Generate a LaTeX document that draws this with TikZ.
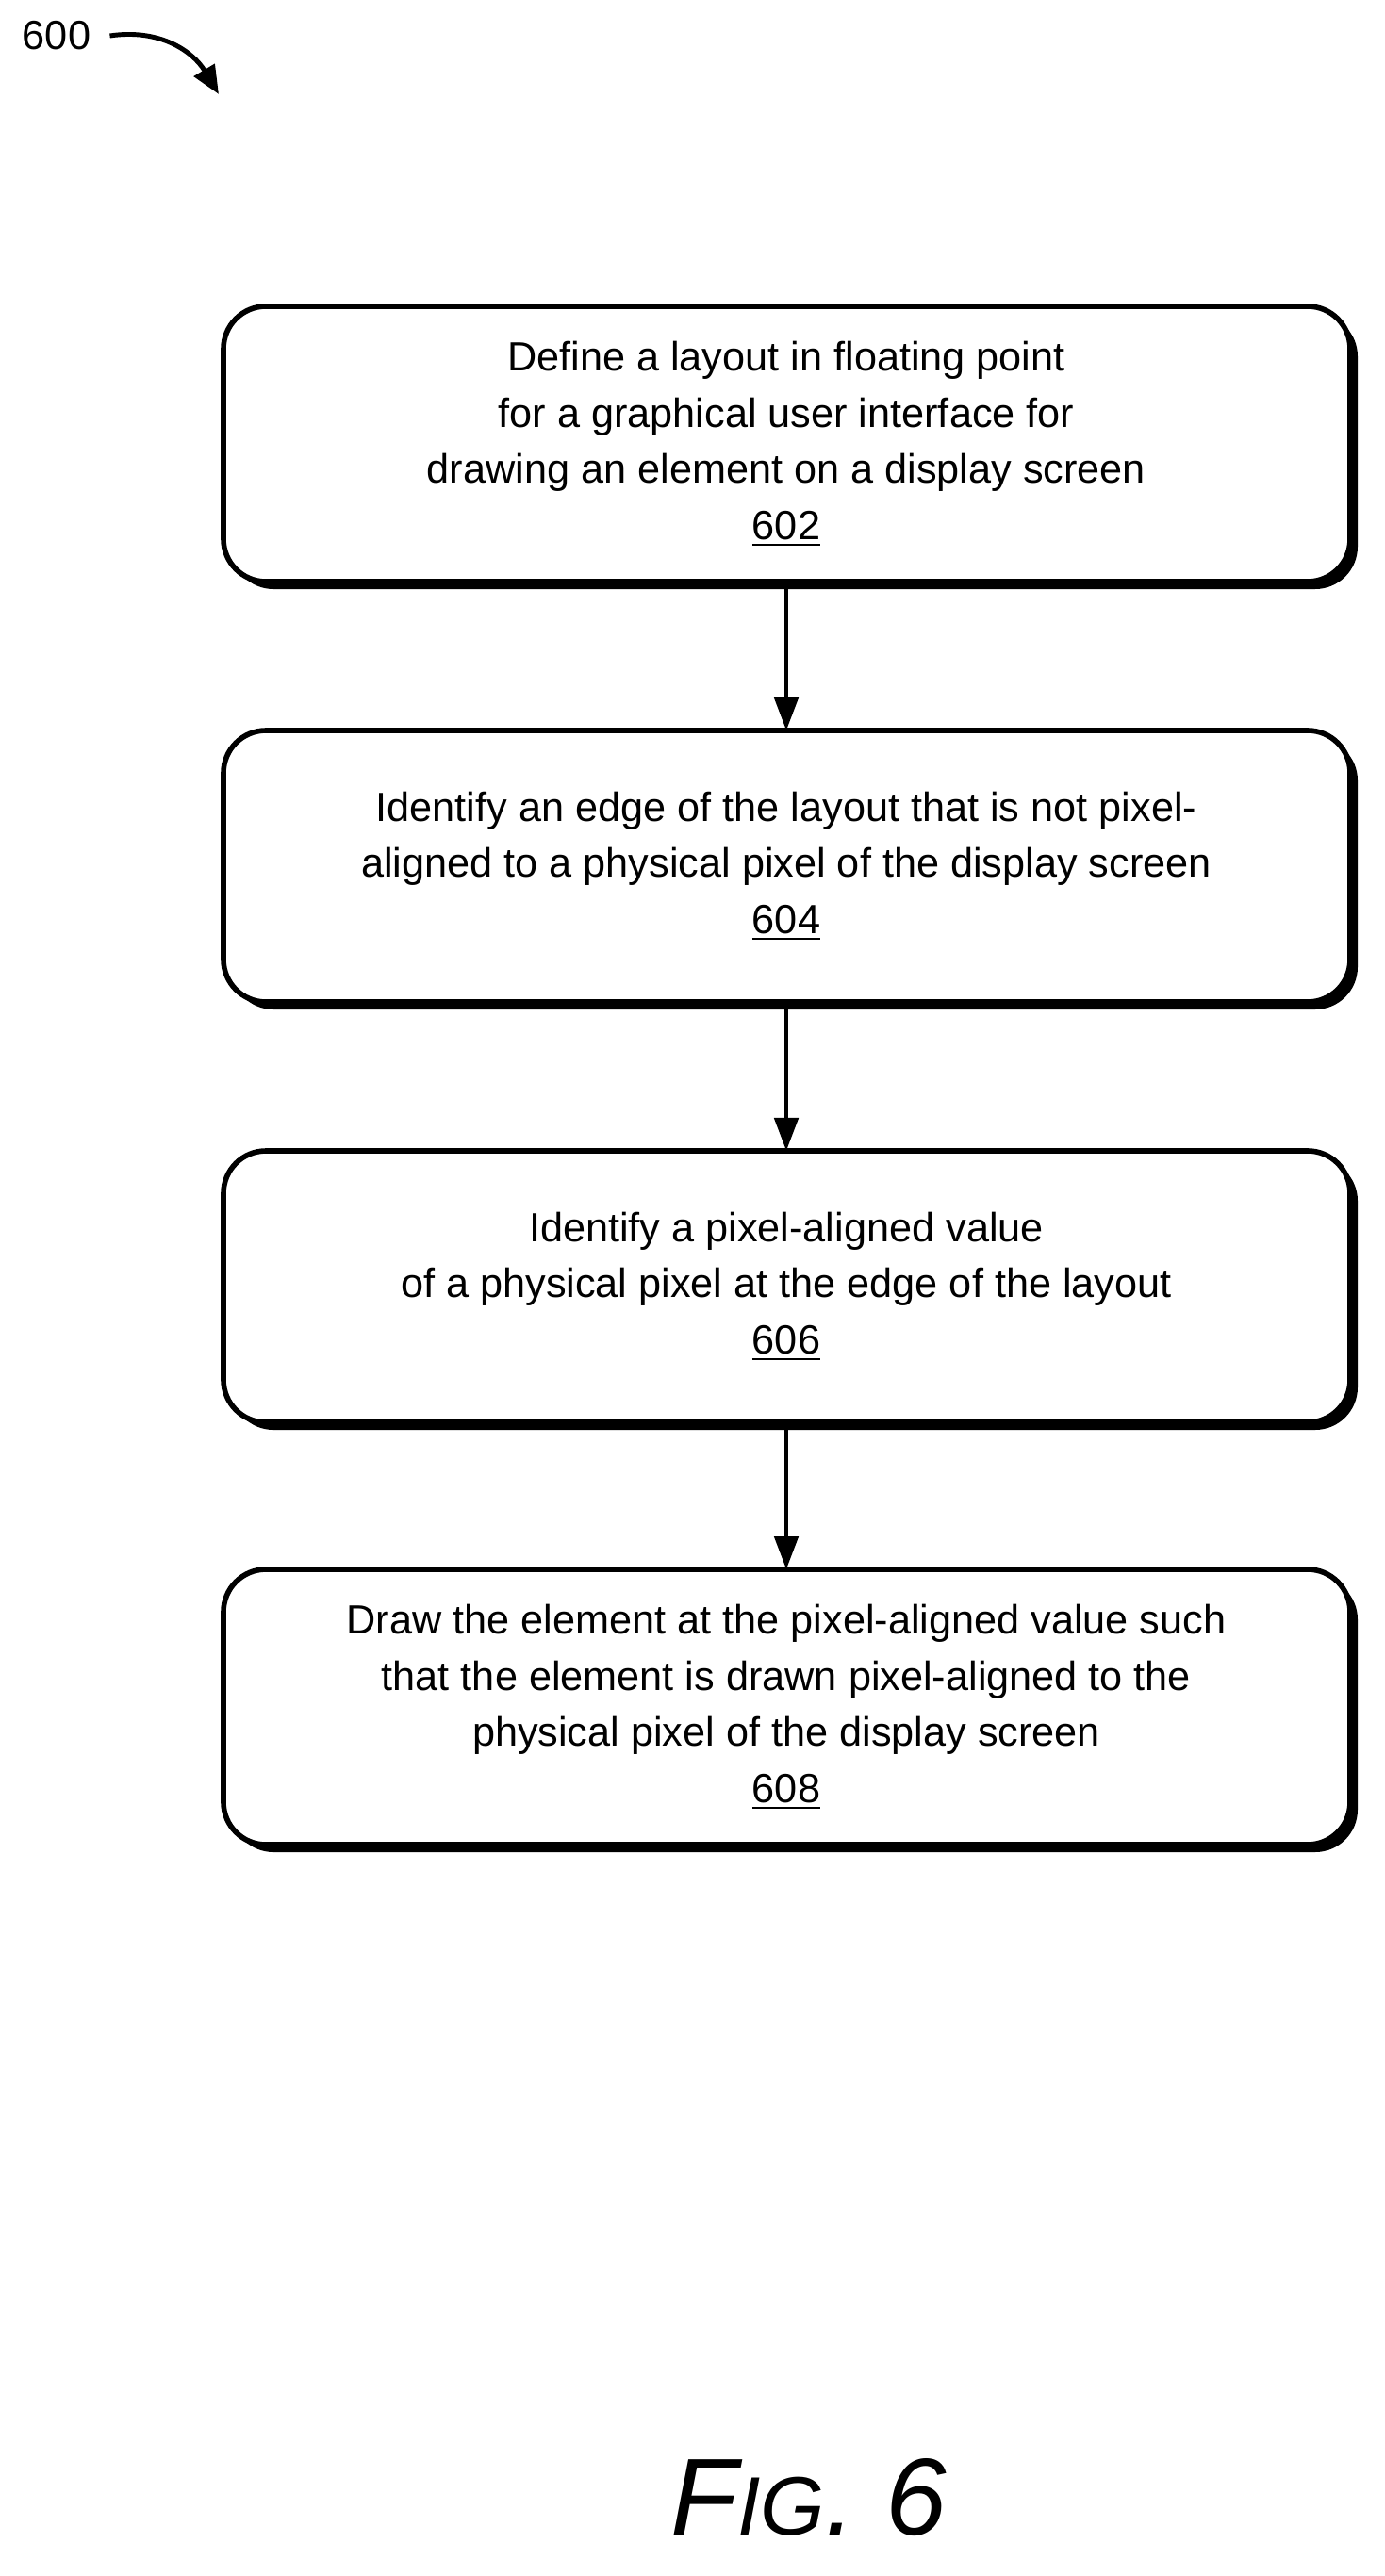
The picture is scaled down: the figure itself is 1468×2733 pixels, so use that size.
\documentclass[tikz,border=0pt]{standalone}
\usepackage{fontspec}
\setmainfont{Liberation Sans}
\usetikzlibrary{arrows.meta}
\begin{document}
\begin{tikzpicture}[x=0.01cm,y=-0.01cm,
  stepbox/.style={draw,line width=1.6pt,rounded corners=0.45cm,minimum width=11.95cm,align=center,
     font=\fontsize{12.3pt}{17pt}\selectfont,inner sep=0pt},
  shadowbox/.style={draw,fill=black,line width=1.6pt,rounded corners=0.45cm},
  conn/.style={line width=1.4pt,-{Triangle[length=0.35cm,width=0.25cm]}}]
\useasboundingbox (0,0) rectangle (1468,2733);
\foreach \t/\b in {325/617,775/1063,1221/1509,1665/1957}{
  \fill[rounded corners=0.45cm] (245,\t+8) rectangle (1440,\b+8);
  \filldraw[fill=white,line width=1.6pt,rounded corners=0.45cm] (237,\t) rectangle (1432,\b);
}
\node[align=center,font=\fontsize{12.3pt}{17pt}\selectfont] (a) at (834,471) {Define a layout in floating point\\for a graphical user interface for\\drawing an element on a display screen\\\underline{602}};
\node[align=center,font=\fontsize{12.3pt}{17pt}\selectfont] (b) at (834,919) {Identify an edge of the layout that is not pixel-\\aligned to a physical pixel of the display screen\\\underline{604}};
\node[align=center,font=\fontsize{12.3pt}{17pt}\selectfont] (c) at (834,1365) {Identify a pixel-aligned value\\of a physical pixel at the edge of the layout\\\underline{606}};
\node[align=center,font=\fontsize{12.3pt}{17pt}\selectfont] (d) at (834,1811) {Draw the element at the pixel-aligned value such\\that the element is drawn pixel-aligned to the\\physical pixel of the display screen\\\underline{608}};
\coordinate (a1) at (834,617); \coordinate (b0) at (834,775);
\coordinate (b1) at (834,1063); \coordinate (c0) at (834,1221);
\coordinate (c1) at (834,1509); \coordinate (d0) at (834,1665);
\draw[conn] (a1) -- (b0);
\draw[conn] (b1) -- (c0);
\draw[conn] (c1) -- (d0);
\node[font=\fontsize{12.3pt}{15pt}\selectfont] (n) at (60,38) {600};
\coordinate (ne) at (232,100);
\draw[line width=1.4pt,-{Triangle[length=0.3cm,width=0.25cm]}] (n.east) ++(8,0) .. controls (170,30) and (205,55) .. (ne);
\node[font=\fontsize{33pt}{40pt}\selectfont\itshape] (f) at (858,2650) {F{\fontsize{25pt}{30pt}\selectfont IG}. 6};
\end{tikzpicture}
\end{document}
